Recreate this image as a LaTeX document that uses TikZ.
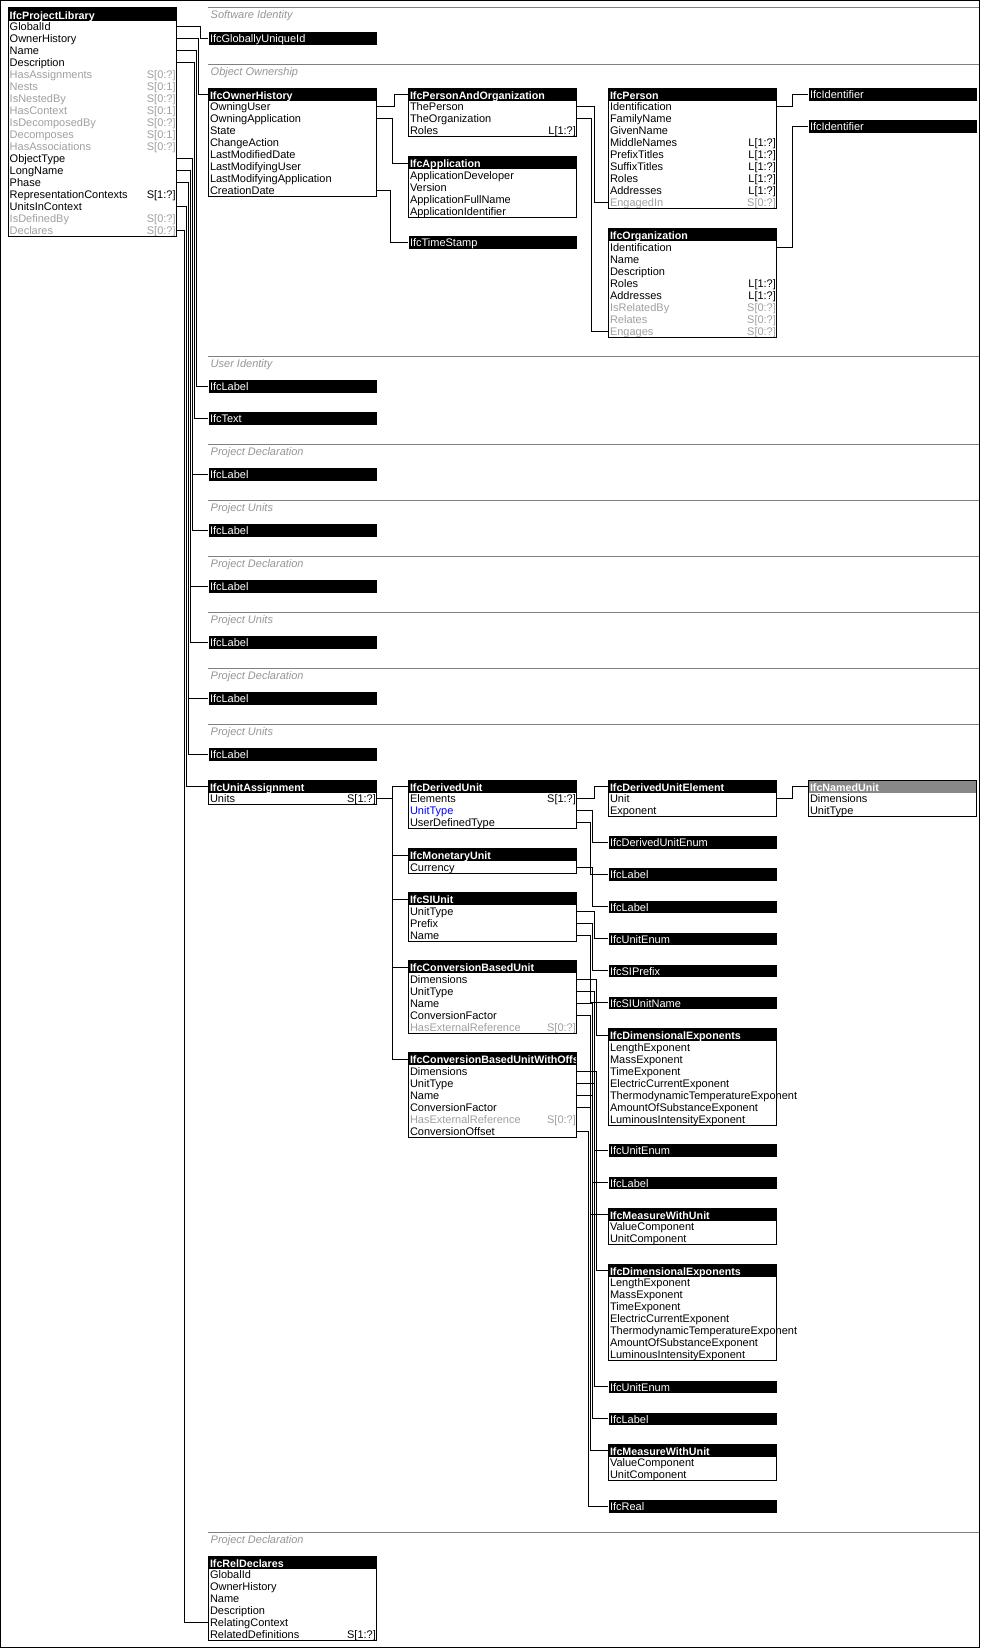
\documentclass[tikz,border=0pt]{standalone}
\usepackage{fontspec}
\setmainfont{Liberation Sans}
\definecolor{invc}{RGB}{160,160,160}
\definecolor{secc}{RGB}{128,128,128}
\definecolor{labc}{RGB}{150,150,150}
\definecolor{abstc}{RGB}{136,136,136}
\definecolor{bluec}{RGB}{0,0,255}
\newcommand\hbx[2]{\hbox to 168.4pt{\hspace{1.5pt}#1\hss#2\hspace{1pt}}}
\tikzset{
  hdr/.style={anchor=north west, fill=black, text=white, inner sep=0pt,
    minimum width=168.4pt, minimum height=12.4pt, text height=11pt, text depth=1.4pt,
    font=\fontsize{10.7}{12}\bfseries},
  tybar/.style={anchor=north west, fill=black, text=white, inner sep=0pt,
    minimum width=168.4pt, minimum height=12.5pt, text height=10.5pt, text depth=2pt,
    font=\fontsize{11}{12}\selectfont},
  rw/.style={anchor=north west, inner sep=0pt, minimum width=168.4pt,
    minimum height=12pt, text height=10pt, text depth=2pt,
    font=\fontsize{11}{12}\selectfont},
  outl/.style={draw=black, line width=1pt},
  conn/.style={draw=black, line width=1pt},
  secline/.style={draw=secc, line width=1pt},
  seclab/.style={anchor=base west, text=labc, inner sep=0pt,
    font=\fontsize{11}{12}\itshape},
}
% entity: name, x, y, title, header fill, number of rows, rows
\newcommand\ent[7]{%
  \node[hdr,fill=#5] (#1) at (#2,#3) {\hbx{#4}{}};
  \foreach \rn/\rc/\rs [count=\ri] in {#7} {%
    \pgfmathsetmacro\ryy{#3+12.4+12*(\ri-1)}%
    \node[rw,text=\rs] (#1-\ri) at (#2,\ryy) {\hbx{\rn}{\rc}};
  }%
  \draw[outl] (#2,#3) rectangle ++(168.4,12.4+12*#6);
}
\newcommand\tbar[4]{\node[tybar] (#1) at (#2,#3) {\hbx{#4}{}};}
\newcommand\secn[3]{%
  \draw[secline] (208.3,#2) -- (979,#2);
  \node[seclab] (#1) at (210.5,#2+11) {#3};}
\begin{document}
\begin{tikzpicture}[x=1pt,y=-1pt]
\fill[white] (0,0) rectangle (984,1648);
\useasboundingbox (0,0) rectangle (984,1648);
\draw[line width=1pt] (0.5,0.5) rectangle (979,1647.5);

% ---------- sections ----------
\secn{s1}{8}{Software Identity}
\secn{s2}{64.3}{Object Ownership}
\secn{s3}{356}{User Identity}
\secn{s4}{444.3}{Project Declaration}
\secn{s5}{500.3}{Project Units}
\secn{s6}{556.3}{Project Declaration}
\secn{s7}{612.3}{Project Units}
\secn{s8}{668.3}{Project Declaration}
\secn{s9}{724.3}{Project Units}
\secn{s10}{1532.3}{Project Declaration}

% ---------- entities ----------
\ent{lib}{8}{8}{IfcProjectLibrary}{black}{18}{GlobalId//black, OwnerHistory//black, Name//black, Description//black,
  HasAssignments/{S[0:?]}/invc, Nests/{S[0:1]}/invc, IsNestedBy/{S[0:?]}/invc, HasContext/{S[0:1]}/invc,
  IsDecomposedBy/{S[0:?]}/invc, Decomposes/{S[0:1]}/invc, HasAssociations/{S[0:?]}/invc,
  ObjectType//black, LongName//black, Phase//black, RepresentationContexts/{S[1:?]}/black,
  UnitsInContext//black, IsDefinedBy/{S[0:?]}/invc, Declares/{S[0:?]}/invc}

\tbar{ggid}{208.3}{32.3}{IfcGloballyUniqueId}

\ent{oh}{208.3}{88.3}{IfcOwnerHistory}{black}{8}{OwningUser//black, OwningApplication//black, State//black,
  ChangeAction//black, LastModifiedDate//black, LastModifyingUser//black, LastModifyingApplication//black, CreationDate//black}

\ent{pao}{408.3}{88.3}{IfcPersonAndOrganization}{black}{3}{ThePerson//black, TheOrganization//black, Roles/{L[1:?]}/black}
\ent{app}{408.3}{156.7}{IfcApplication}{black}{4}{ApplicationDeveloper//black, Version//black, ApplicationFullName//black, ApplicationIdentifier//black}
\tbar{ts}{408.3}{236}{IfcTimeStamp}

\ent{per}{608.3}{88.3}{IfcPerson}{black}{9}{Identification//black, FamilyName//black, GivenName//black,
  MiddleNames/{L[1:?]}/black, PrefixTitles/{L[1:?]}/black, SuffixTitles/{L[1:?]}/black, Roles/{L[1:?]}/black,
  Addresses/{L[1:?]}/black, EngagedIn/{S[0:?]}/invc}
\ent{org}{608.3}{228.7}{IfcOrganization}{black}{8}{Identification//black, Name//black, Description//black,
  Roles/{L[1:?]}/black, Addresses/{L[1:?]}/black, IsRelatedBy/{S[0:?]}/invc, Relates/{S[0:?]}/invc, Engages/{S[0:?]}/invc}
\tbar{id1}{808.3}{88.3}{IfcIdentifier}
\tbar{id2}{808.3}{120}{IfcIdentifier}

\tbar{lbl1}{208.3}{380}{IfcLabel}
\tbar{txt}{208.3}{412}{IfcText}
\tbar{lbl2}{208.3}{468}{IfcLabel}
\tbar{lbl3}{208.3}{524}{IfcLabel}
\tbar{lbl4}{208.3}{580}{IfcLabel}
\tbar{lbl5}{208.3}{636}{IfcLabel}
\tbar{lbl6}{208.3}{692}{IfcLabel}
\tbar{lbl7}{208.3}{748}{IfcLabel}

\ent{ua}{208.3}{780.3}{IfcUnitAssignment}{black}{1}{Units/{S[1:?]}/black}
\ent{du}{408.3}{780.3}{IfcDerivedUnit}{black}{3}{Elements/{S[1:?]}/black, UnitType//bluec, UserDefinedType//black}
\ent{mu}{408.3}{848.7}{IfcMonetaryUnit}{black}{1}{Currency//black}
\ent{si}{408.3}{892.7}{IfcSIUnit}{black}{3}{UnitType//black, Prefix//black, Name//black}
\ent{cbu}{408.3}{960.7}{IfcConversionBasedUnit}{black}{5}{Dimensions//black, UnitType//black, Name//black,
  ConversionFactor//black, HasExternalReference/{S[0:?]}/invc}
\ent{cbuo}{408.3}{1052.7}{IfcConversionBasedUnitWithOffs}{black}{6}{Dimensions//black, UnitType//black, Name//black,
  ConversionFactor//black, HasExternalReference/{S[0:?]}/invc, ConversionOffset//black}

\ent{due}{608.3}{780.3}{IfcDerivedUnitElement}{black}{2}{Unit//black, Exponent//black}
\ent{nu}{808.3}{780.3}{IfcNamedUnit}{abstc}{2}{Dimensions//black, UnitType//black}
\tbar{duenum}{608.3}{836}{IfcDerivedUnitEnum}
\tbar{lblA}{608.3}{868}{IfcLabel}
\tbar{lblB}{608.3}{900.3}{IfcLabel}
\tbar{ue1}{608.3}{932.3}{IfcUnitEnum}
\tbar{sipre}{608.3}{964.3}{IfcSIPrefix}
\tbar{siname}{608.3}{996.3}{IfcSIUnitName}
\ent{de1}{608.3}{1028.7}{IfcDimensionalExponents}{black}{7}{LengthExponent//black, MassExponent//black,
  TimeExponent//black, ElectricCurrentExponent//black, ThermodynamicTemperatureExponent//black,
  AmountOfSubstanceExponent//black, LuminousIntensityExponent//black}
\tbar{ue2}{608.3}{1144}{IfcUnitEnum}
\tbar{lblC}{608.3}{1176.3}{IfcLabel}
\ent{mwu1}{608.3}{1208.3}{IfcMeasureWithUnit}{black}{2}{ValueComponent//black, UnitComponent//black}
\ent{de2}{608.3}{1264.3}{IfcDimensionalExponents}{black}{7}{LengthExponent//black, MassExponent//black,
  TimeExponent//black, ElectricCurrentExponent//black, ThermodynamicTemperatureExponent//black,
  AmountOfSubstanceExponent//black, LuminousIntensityExponent//black}
\tbar{ue3}{608.3}{1380.3}{IfcUnitEnum}
\tbar{lblD}{608.3}{1412.3}{IfcLabel}
\ent{mwu2}{608.3}{1444.3}{IfcMeasureWithUnit}{black}{2}{ValueComponent//black, UnitComponent//black}
\tbar{real}{608.3}{1500}{IfcReal}

\ent{rd}{208.3}{1556.3}{IfcRelDeclares}{black}{6}{GlobalId//black, OwnerHistory//black, Name//black,
  Description//black, RelatingContext//black, RelatedDefinitions/{S[1:?]}/black}

% ---------- connectors ----------
\draw[conn] (lib-1.east) -- ++(23.9,0) |- (ggid.west);
\draw[conn] (lib-2.east) -- ++(21.9,0) |- (oh.west);
\draw[conn] (lib-3.east) -- ++(19.9,0) |- (lbl1.west);
\draw[conn] (lib-4.east) -- ++(17.9,0) |- (txt.west);
\draw[conn] (lib-12.east) -- ++(15.9,0) |- (lbl2.west) (lib-12.east) ++(15.9,0) |- (lbl3.west);
\draw[conn] (lib-13.east) -- ++(13.9,0) |- (lbl4.west) (lib-13.east) ++(13.9,0) |- (lbl5.west);
\draw[conn] (lib-14.east) -- ++(11.9,0) |- (lbl6.west) (lib-14.east) ++(11.9,0) |- (lbl7.west);
\draw[conn] (lib-16.east) -- ++(9.9,0) |- (ua.west);
\draw[conn] (lib-18.east) -- ++(7.9,0) |- (rd-5.west);

\draw[conn] (oh-1.east) -- ++(17.6,0) |- (pao.west);
\draw[conn] (oh-2.east) -- ++(15.6,0) |- (app.west);
\draw[conn] (oh-8.east) -- ++(13.6,0) |- (ts.west);
\draw[conn] (pao-1.east) -- ++(17.3,0) |- (per-9.west);
\draw[conn] (pao-2.east) -- ++(14.6,0) |- (org-8.west);
\draw[conn] (per-1.east) -- ++(15.6,0) |- (id1.west);
\draw[conn] (org-1.east) -- ++(15.6,0) |- (id2.west);

\draw[conn] (ua-1.east) -- ++(15.6,0) |- (du.west)
  (ua-1.east) ++(15.6,0) |- (mu.west)
  (ua-1.east) ++(15.6,0) |- (si.west)
  (ua-1.east) ++(15.6,0) |- (cbu.west)
  (ua-1.east) ++(15.6,0) |- (cbuo.west);

\draw[conn] (du-1.east) -- ++(17.6,0) |- (due.west);
\draw[conn] (du-2.east) -- ++(15.6,0) |- (duenum.west);
\draw[conn] (du-3.east) -- ++(13.6,0) |- (lblA.west);
\draw[conn] (mu-1.east) -- ++(15.6,0) |- (lblB.west);
\draw[conn] (si-1.east) -- ++(17.6,0) |- (ue1.west);
\draw[conn] (si-2.east) -- ++(15.6,0) |- (sipre.west);
\draw[conn] (si-3.east) -- ++(13.6,0) |- (siname.west);
\draw[conn] (cbu-1.east) -- ++(19.6,0) |- (de1.west);
\draw[conn] (cbu-2.east) -- ++(17.6,0) |- (ue2.west);
\draw[conn] (cbu-3.east) -- ++(15.6,0) |- (lblC.west);
\draw[conn] (cbu-4.east) -- ++(13.6,0) |- (mwu1.west);
\draw[conn] (cbuo-1.east) -- ++(19.6,0) |- (de2.west);
\draw[conn] (cbuo-2.east) -- ++(17.6,0) |- (ue3.west);
\draw[conn] (cbuo-3.east) -- ++(15.6,0) |- (lblD.west);
\draw[conn] (cbuo-4.east) -- ++(13.6,0) |- (mwu2.west);
\draw[conn] (cbuo-6.east) -- ++(11.6,0) |- (real.west);
\draw[conn] (due-1.east) -- ++(15.6,0) |- (nu.west);
\end{tikzpicture}
\end{document}
